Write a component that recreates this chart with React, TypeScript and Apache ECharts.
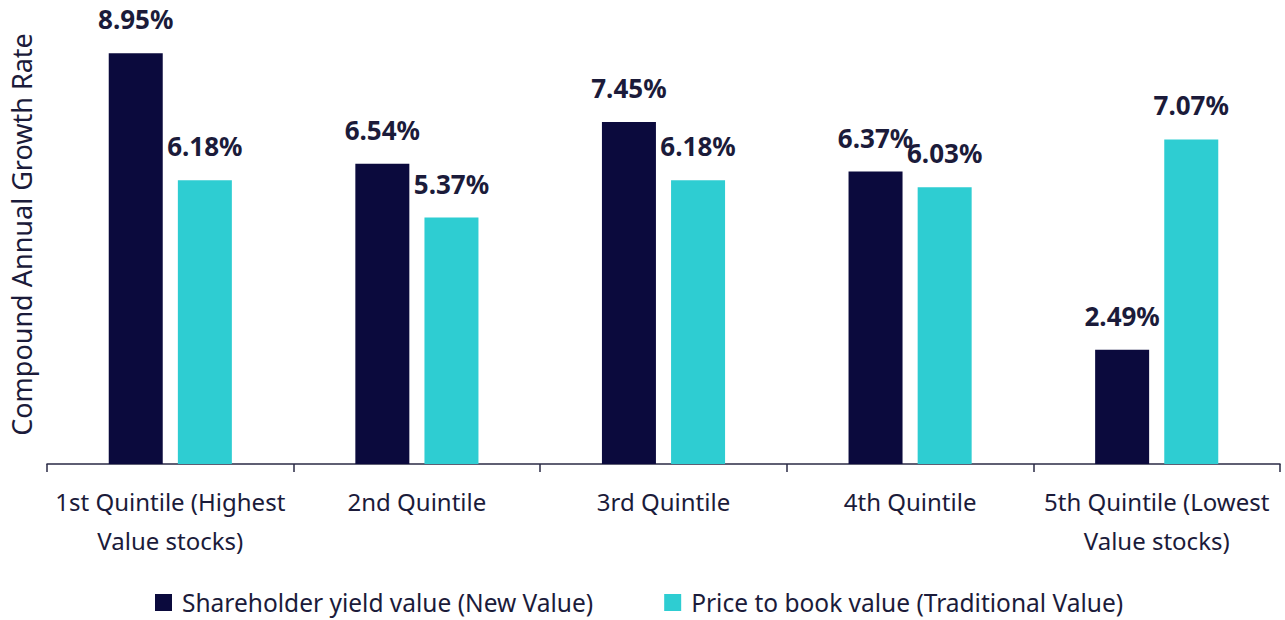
import React, { useEffect, useRef } from "react";
import * as echarts from "echarts";

const categories = [
  "1st Quintile (Highest\nValue stocks)",
  "2nd Quintile",
  "3rd Quintile",
  "4th Quintile",
  "5th Quintile (Lowest\nValue stocks)",
];
const shareholderYield = [8.95, 6.54, 7.45, 6.37, 2.49];
const priceToBook = [6.18, 5.37, 6.18, 6.03, 7.07];
const seriesNames = ["Shareholder yield value (New Value)", "Price to book value (Traditional Value)"];

const FONT = "Noto Sans";
const TEXT = "#1b1b3a";

export default function App() {
  const ref = useRef<HTMLDivElement>(null);
  useEffect(() => {
    const chart = echarts.init(ref.current!, null, { renderer: "svg" });
    const label = {
      show: true,
      position: "top" as const,
      distance: 21,
      formatter: (p: any) => p.value.toFixed(2) + "%",
      fontFamily: FONT,
      fontSize: 26,
      fontWeight: "bold" as const,
      color: TEXT,
    };
    chart.setOption({
      animation: false,
      textStyle: { fontFamily: FONT },
      grid: { left: 47, right: 5, top: 5, bottom: 156, containLabel: false, outerBoundsMode: "none" },
      legend: {
        top: 590,
        left: 155,
        padding: 0,
        itemWidth: 17,
        itemHeight: 17,
        itemGap: 71,
        icon: "rect",
        textStyle: { fontFamily: FONT, fontSize: 24.5, lineHeight: 24, color: TEXT, padding: [0, 0, 0, 5] },
        data: seriesNames,
      },
      xAxis: {
        type: "category",
        data: categories,
        axisLine: { lineStyle: { color: "#2a2a45", width: 1.5 } },
        axisTick: { show: true, length: 8, lineStyle: { color: "#2a2a45", width: 1.5 } },
        axisLabel: {
          fontFamily: FONT,
          fontSize: 24,
          color: TEXT,
          lineHeight: 39,
          margin: 18,
          interval: 0,
        },
      },
      yAxis: {
        type: "value",
        min: 0,
        max: 10,
        name: "Compound Annual Growth Rate",
        nameLocation: "middle",
        nameGap: 12,
        nameTextStyle: { fontFamily: FONT, fontSize: 27, color: TEXT },
        axisLine: { show: false },
        axisTick: { show: false },
        axisLabel: { show: false },
        splitLine: { show: false },
      },
      series: [
        {
          name: seriesNames[0],
          type: "bar",
          data: shareholderYield,
          barWidth: 54,
          barGap: "28%",
          itemStyle: { color: "#0b0a3d" },
          label,
        },
        {
          name: seriesNames[1],
          type: "bar",
          data: priceToBook,
          barWidth: 54,
          itemStyle: { color: "#2ecdd2" },
          label,
        },
      ],
    });
    return () => chart.dispose();
  }, []);
  return (
    <div
      ref={ref}
      style={{ position: "absolute", left: 0, top: 0, width: 1285, height: 620 }}
    />
  );
}
